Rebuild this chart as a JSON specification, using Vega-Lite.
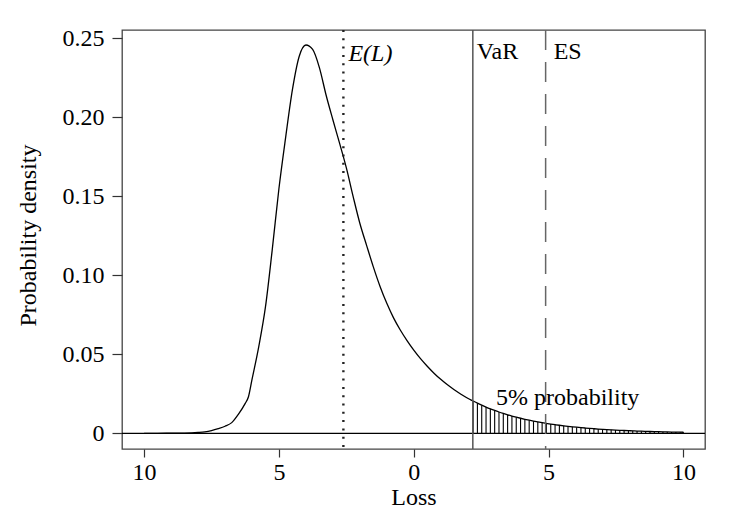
{
  "$schema": "https://vega.github.io/schema/vega-lite/v6.json",
  "autosize": "none",
  "width": 583,
  "height": 419,
  "padding": {"left": 122, "top": 30, "right": 32, "bottom": 67},
  "background": "white",
  "config": {
    "view": {"stroke": "#444", "strokeWidth": 1.3},
    "font": "Liberation Serif",
    "axis": {"grid": false, "domain": false, "tickColor": "#333", "tickWidth": 1.2, "labelFont": "Liberation Serif", "labelFontSize": 24, "labelColor": "black", "titleFont": "Liberation Serif", "titleFontSize": 24, "titleFontWeight": "normal", "titleColor": "black"}
  },
  "datasets": {
    "curve": [
      {"x": -10, "y": 0}, {"x": -9.5, "y": 0}, {"x": -9, "y": 0.0001}, {"x": -8.5, "y": 0.0002},
      {"x": -8, "y": 0.0006}, {"x": -7.75, "y": 0.001}, {"x": -7.5, "y": 0.0018}, {"x": -7.25, "y": 0.003},
      {"x": -7, "y": 0.0045}, {"x": -6.75, "y": 0.0068}, {"x": -6.5, "y": 0.0122}, {"x": -6.25, "y": 0.019},
      {"x": -6.13, "y": 0.0232}, {"x": -6, "y": 0.034}, {"x": -5.75, "y": 0.0548}, {"x": -5.5, "y": 0.08},
      {"x": -5.25, "y": 0.116}, {"x": -5, "y": 0.155}, {"x": -4.75, "y": 0.1875}, {"x": -4.5, "y": 0.2175},
      {"x": -4.25, "y": 0.2385}, {"x": -4, "y": 0.2458}, {"x": -3.75, "y": 0.243}, {"x": -3.5, "y": 0.2315},
      {"x": -3.25, "y": 0.214}, {"x": -3, "y": 0.1985}, {"x": -2.75, "y": 0.1835}, {"x": -2.5, "y": 0.168},
      {"x": -2.25, "y": 0.15}, {"x": -2, "y": 0.133}, {"x": -1.75, "y": 0.119}, {"x": -1.5, "y": 0.1054},
      {"x": -1.25, "y": 0.093}, {"x": -1, "y": 0.0823}, {"x": -0.75, "y": 0.0731}, {"x": -0.5, "y": 0.0654},
      {"x": -0.25, "y": 0.0587}, {"x": 0, "y": 0.0527}, {"x": 0.25, "y": 0.0473}, {"x": 0.5, "y": 0.0425},
      {"x": 0.75, "y": 0.0381}, {"x": 1, "y": 0.0342}, {"x": 1.25, "y": 0.0307}, {"x": 1.5, "y": 0.0276},
      {"x": 1.75, "y": 0.0248}, {"x": 2, "y": 0.0222},
      {"x": 2.2, "y": 0.0205}, {"x": 2.36, "y": 0.01913}, {"x": 2.52, "y": 0.01785}, {"x": 2.68, "y": 0.01665},
      {"x": 2.84, "y": 0.01553}, {"x": 3.0, "y": 0.01449}, {"x": 3.16, "y": 0.01352}, {"x": 3.32, "y": 0.01262},
      {"x": 3.48, "y": 0.01177}, {"x": 3.64, "y": 0.01098}, {"x": 3.8, "y": 0.01025}, {"x": 3.96, "y": 0.00956},
      {"x": 4.12, "y": 0.00892}, {"x": 4.28, "y": 0.00832}, {"x": 4.44, "y": 0.00776}, {"x": 4.6, "y": 0.00724},
      {"x": 4.76, "y": 0.00676}, {"x": 4.92, "y": 0.00631}, {"x": 5.08, "y": 0.00588}, {"x": 5.24, "y": 0.00549},
      {"x": 5.4, "y": 0.00512}, {"x": 5.56, "y": 0.00478}, {"x": 5.72, "y": 0.00446}, {"x": 5.88, "y": 0.00416},
      {"x": 6.04, "y": 0.00388}, {"x": 6.2, "y": 0.00362}, {"x": 6.36, "y": 0.00338}, {"x": 6.52, "y": 0.00315},
      {"x": 6.68, "y": 0.00294}, {"x": 6.84, "y": 0.00274}, {"x": 7.0, "y": 0.00256}, {"x": 7.16, "y": 0.00239},
      {"x": 7.32, "y": 0.00223}, {"x": 7.48, "y": 0.00208}, {"x": 7.64, "y": 0.00194}, {"x": 7.8, "y": 0.00181},
      {"x": 7.96, "y": 0.00169}, {"x": 8.12, "y": 0.00158}, {"x": 8.28, "y": 0.00147}, {"x": 8.44, "y": 0.00137},
      {"x": 8.6, "y": 0.00128}, {"x": 8.76, "y": 0.00119}, {"x": 8.92, "y": 0.00111}, {"x": 9.08, "y": 0.00104},
      {"x": 9.24, "y": 0.00097}, {"x": 9.4, "y": 0.0009}, {"x": 9.56, "y": 0.00084}, {"x": 9.72, "y": 0.00079},
      {"x": 9.88, "y": 0.00074}, {"x": 10.0, "y": 0.0007}
    ],
    "refs": [
      {"name": "E(L)", "value": -2.61},
      {"name": "VaR", "value": 2.19},
      {"name": "ES", "value": 4.89}
    ],
    "notes": [
      {"label": "5% probability"}
    ]
  },
  "layer": [
    {
      "data": {"name": "curve"},
      "transform": [{"filter": "datum.x >= 2.2"}],
      "mark": {"type": "rule", "color": "black", "strokeWidth": 1.1},
      "encoding": {
        "x": {"field": "x", "type": "quantitative", "title": "Loss", "scale": {"domain": [-10.82, 10.8], "nice": false, "zero": false}},
        "y": {"field": "y", "type": "quantitative", "title": "Probability density", "scale": {"domain": [-0.0099, 0.2553], "nice": false, "zero": false}},
        "y2": {"datum": 0}
      }
    },
    {
      "data": {"name": "curve"},
      "mark": {"type": "line", "color": "black", "strokeWidth": 1.3, "interpolate": "monotone"},
      "encoding": {
        "x": {"field": "x", "type": "quantitative", "scale": {"domain": [-10.82, 10.8], "nice": false, "zero": false},
          "axis": {"title": "Loss", "values": [-10, -5, 0, 5, 10], "labelExpr": "format(abs(datum.value), 'd')", "tickSize": 8, "labelPadding": 22, "labelBaseline": "alphabetic", "labelFlush": false, "titleBaseline": "alphabetic", "titleY": 55}},
        "y": {"field": "y", "type": "quantitative", "scale": {"domain": [-0.0099, 0.2553], "nice": false, "zero": false},
          "axis": {"title": "Probability density", "values": [0, 0.05, 0.1, 0.15, 0.2, 0.25], "labelExpr": "datum.value == 0 ? '0' : format(datum.value, '.2f')", "tickSize": 10, "labelPadding": 8, "labelFlush": false, "titleX": -87, "titleY": 205, "titleAngle": 270, "titleBaseline": "alphabetic"}}
      }
    },
    {
      "data": {"values": [{}]},
      "mark": {"type": "rule", "color": "black", "strokeWidth": 1.2},
      "encoding": {"y": {"datum": 0, "type": "quantitative"}}
    },
    {
      "data": {"name": "refs"},
      "transform": [{"filter": "datum.name == 'E(L)'"}],
      "mark": {"type": "rule", "color": "#222", "strokeWidth": 2.4, "strokeDash": [2, 6.3]},
      "encoding": {"x": {"field": "value", "type": "quantitative", "title": "Loss"}}
    },
    {
      "data": {"name": "refs"},
      "transform": [{"filter": "datum.name == 'VaR'"}],
      "mark": {"type": "rule", "color": "#555", "strokeWidth": 1.5},
      "encoding": {"x": {"field": "value", "type": "quantitative", "title": "Loss"}}
    },
    {
      "data": {"name": "refs"},
      "transform": [{"filter": "datum.name == 'ES'"}],
      "mark": {"type": "rule", "color": "#666", "strokeWidth": 1.5, "strokeDash": [20, 12]},
      "encoding": {"x": {"field": "value", "type": "quantitative", "title": "Loss"}}
    },
    {
      "data": {"name": "refs"},
      "transform": [{"filter": "datum.name == 'E(L)'"}],
      "mark": {"type": "text", "font": "Liberation Serif", "fontSize": 24, "fontStyle": "italic", "align": "left", "baseline": "alphabetic", "dx": 5, "color": "black"},
      "encoding": {
        "x": {"field": "value", "type": "quantitative", "title": "Loss"},
        "y": {"datum": 0.2355, "type": "quantitative"},
        "text": {"field": "name"}
      }
    },
    {
      "data": {"name": "refs"},
      "transform": [{"filter": "datum.name == 'VaR'"}],
      "mark": {"type": "text", "font": "Liberation Serif", "fontSize": 24, "align": "left", "baseline": "alphabetic", "dx": 4, "color": "black"},
      "encoding": {
        "x": {"field": "value", "type": "quantitative", "title": "Loss"},
        "y": {"datum": 0.2367, "type": "quantitative"},
        "text": {"field": "name"}
      }
    },
    {
      "data": {"name": "refs"},
      "transform": [{"filter": "datum.name == 'ES'"}],
      "mark": {"type": "text", "font": "Liberation Serif", "fontSize": 24, "align": "left", "baseline": "alphabetic", "dx": 8, "color": "black"},
      "encoding": {
        "x": {"field": "value", "type": "quantitative", "title": "Loss"},
        "y": {"datum": 0.2367, "type": "quantitative"},
        "text": {"field": "name"}
      }
    },
    {
      "data": {"name": "notes"},
      "mark": {"type": "text", "font": "Liberation Serif", "fontSize": 24, "align": "left", "baseline": "alphabetic", "color": "black"},
      "encoding": {
        "x": {"datum": 3.05, "type": "quantitative"},
        "y": {"datum": 0.0179, "type": "quantitative"},
        "text": {"field": "label"}
      }
    }
  ]
}
